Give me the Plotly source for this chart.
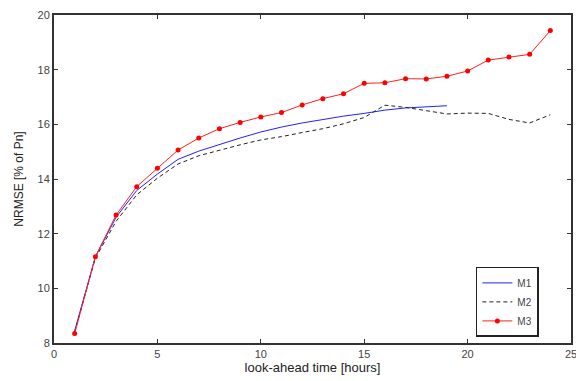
import plotly.graph_objects as go

hours_m1 = list(range(1, 20))
m1 = [8.45, 11.15, 12.6, 13.58, 14.18, 14.72, 15.02, 15.27, 15.5, 15.72,
      15.9, 16.05, 16.18, 16.3, 16.4, 16.52, 16.6, 16.65, 16.68]

hours = list(range(1, 25))
m2 = [8.4, 11.1, 12.45, 13.42, 14.03, 14.55, 14.85, 15.06, 15.25, 15.43,
      15.55, 15.7, 15.84, 16.02, 16.25, 16.7, 16.62, 16.5, 16.38, 16.41,
      16.4, 16.18, 16.05, 16.35]
m3 = [8.35, 11.16, 12.68, 13.72, 14.39, 15.06, 15.5, 15.84, 16.07, 16.27,
      16.43, 16.71, 16.94, 17.12, 17.5, 17.52, 17.67, 17.66, 17.76, 17.95,
      18.35, 18.46, 18.56, 19.43]

x_ticks = [0, 5, 10, 15, 20, 25]
y_ticks = [8, 10, 12, 14, 16, 18, 20]

fig = go.Figure()
fig.add_trace(go.Scatter(x=hours_m1, y=m1, name="M1", mode="lines",
                         line=dict(color="#2020ff", width=1)))
fig.add_trace(go.Scatter(x=hours, y=m2, name="M2", mode="lines",
                         line=dict(color="#222222", width=1, dash="4px,3px")))
fig.add_trace(go.Scatter(x=hours, y=m3, name="M3", mode="lines+markers",
                         line=dict(color="#ff2020", width=1),
                         marker=dict(color="#ff0000", size=5)))

axis_common = dict(showgrid=False, zeroline=False, showline=True,
                   linecolor="#333333", linewidth=2, mirror="allticks",
                   ticks="inside", ticklen=4, tickcolor="#333333", automargin=False,
                   tickfont=dict(family="Liberation Sans", size=11, color="#444444"))

fig.update_xaxes(range=[0, 25], tickvals=x_ticks,
                 title=dict(text="look-ahead time [hours]", standoff=2,
                            font=dict(family="Liberation Sans", size=13, color="#222222")),
                 **axis_common)
fig.update_yaxes(range=[8, 20], tickvals=y_ticks,
                 title=dict(text="NRMSE [% of Pn]", standoff=11,
                            font=dict(family="Liberation Sans", size=12, color="#222222")),
                 **axis_common)

# page body has an 8px default margin; size the figure so it fits the window
fig.update_layout(
    width=576, height=373,
    margin=dict(l=46, r=13, t=7, b=38),
    paper_bgcolor="white", plot_bgcolor="white",
    font=dict(family="Liberation Sans"),
    legend=dict(x=0.816, y=0.232, xanchor="left", yanchor="top",
                bordercolor="#222222", borderwidth=1.5, bgcolor="white",
                font=dict(size=10, color="#444444"),
                tracegroupgap=0, itemwidth=30),
)

fig.write_html("out.html")
